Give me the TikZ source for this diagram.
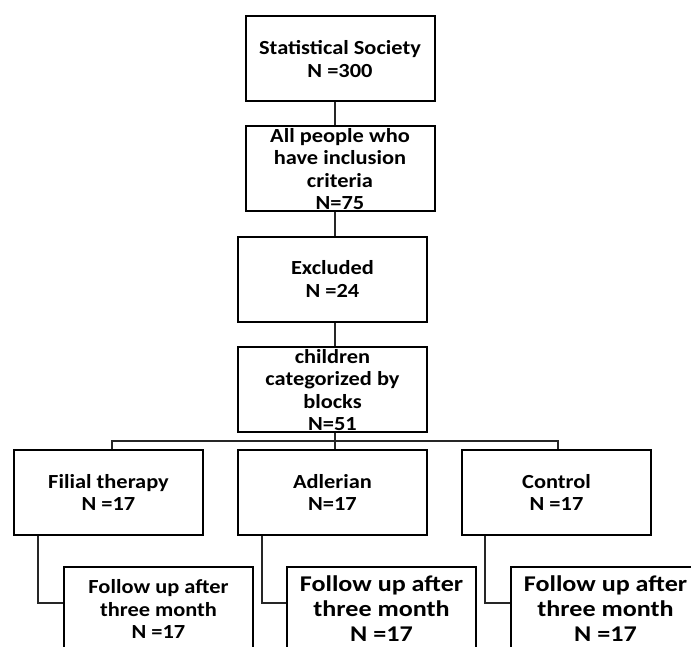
\documentclass[tikz,border=0pt]{standalone}
\usepackage{fontspec}
\setmainfont{Carlito}
\newfontfamily\boxfont{Carlito}[FakeStretch=1.12]
\newfontfamily\bigfont{Carlito}[FakeStretch=1.16]
\usetikzlibrary{positioning}
\tikzset{
  box/.style={draw, line width=2pt, minimum width=189pt, minimum height=85pt, inner sep=0pt},
  boxtext/.style={align=center, inner sep=0pt, font=\boxfont\bfseries\fontsize{20}{22.5}\selectfont},
  bigtext/.style={align=center, inner sep=0pt, font=\bigfont\bfseries\fontsize{22.5}{25}\selectfont},
  link/.style={draw=black!85, line width=1.6pt},
}
\begin{document}
\begin{tikzpicture}[x=1pt, y=-1pt]
      \useasboundingbox (0, 0) rectangle (691, 647);
      \clip (0, 0) rectangle (691, 647);
      % main column
      \node [box] (soc) at (340.5, 58.5) {};
      \node [box] (incl) at (340.5, 168.5) {};
      \node [box] (excl) at (332.5, 279.5) {};
      \node [box] (blocks) at (332.5, 389.5) {};
      \node [boxtext] (socT) at (340, 59) {Statistical Society\\N =300};
      \node [boxtext] (inclT) at (340, 169) {All people who\\have inclusion\\criteria\\N=75};
      \node [boxtext] (exclT) at (332.5, 279) {Excluded\\N =24};
      \node [boxtext] (blocksT) at (332.5, 390) {children\\categorized by\\blocks\\N=51};
      % groups
      \node [box] (filial) at (108.5, 492.5) {};
      \node [box] (adler) at (332.5, 492.5) {};
      \node [box] (ctrl) at (556.5, 492.5) {};
      \node [boxtext] (filialT) at (filial) {Filial therapy\\N =17};
      \node [boxtext] (adlerT) at (adler) {Adlerian\\N=17};
      \node [boxtext] (ctrlT) at (ctrl) {Control\\N =17};
      % follow up
      \node [box] (ffol) at (158.5, 609) {};
      \node [box] (afol) at (381.5, 609) {};
      \node [box] (cfol) at (605.5, 609) {};
      \node [boxtext] (ffolT) at (158.5, 609) {Follow up after\\three month\\N =17};
      \node [bigtext] (afolT) at (381.5, 609) {Follow up after\\three month\\N =17};
      \node [bigtext] (cfolT) at (605.5, 609) {Follow up after\\three month\\N =17};
      % connectors
      \coordinate (trunk) at (335, 0);
      \coordinate (busL) at (112, 441);
      \coordinate (busR) at (558, 441);
      \draw [link] (soc.south -| trunk) -- (incl.north -| trunk)
                   (incl.south -| trunk) -- (excl.north -| trunk)
                   (excl.south -| trunk) -- (blocks.north -| trunk)
                   (blocks.south -| trunk) -- (adler.north -| trunk);
      \draw [link] (filial.north -| busL) -- (busL) -- (busR) -- (ctrl.north -| busR);
      \coordinate (fd) at (38, 603);
      \coordinate (ad) at (262, 603);
      \coordinate (cd) at (485, 603);
      \foreach \g/\f/\d in {filial/ffol/fd, adler/afol/ad, ctrl/cfol/cd}
        \draw [link] (\g.south -| \d) -- (\d) -- (\f.west |- \d);
\end{tikzpicture}
\end{document}
